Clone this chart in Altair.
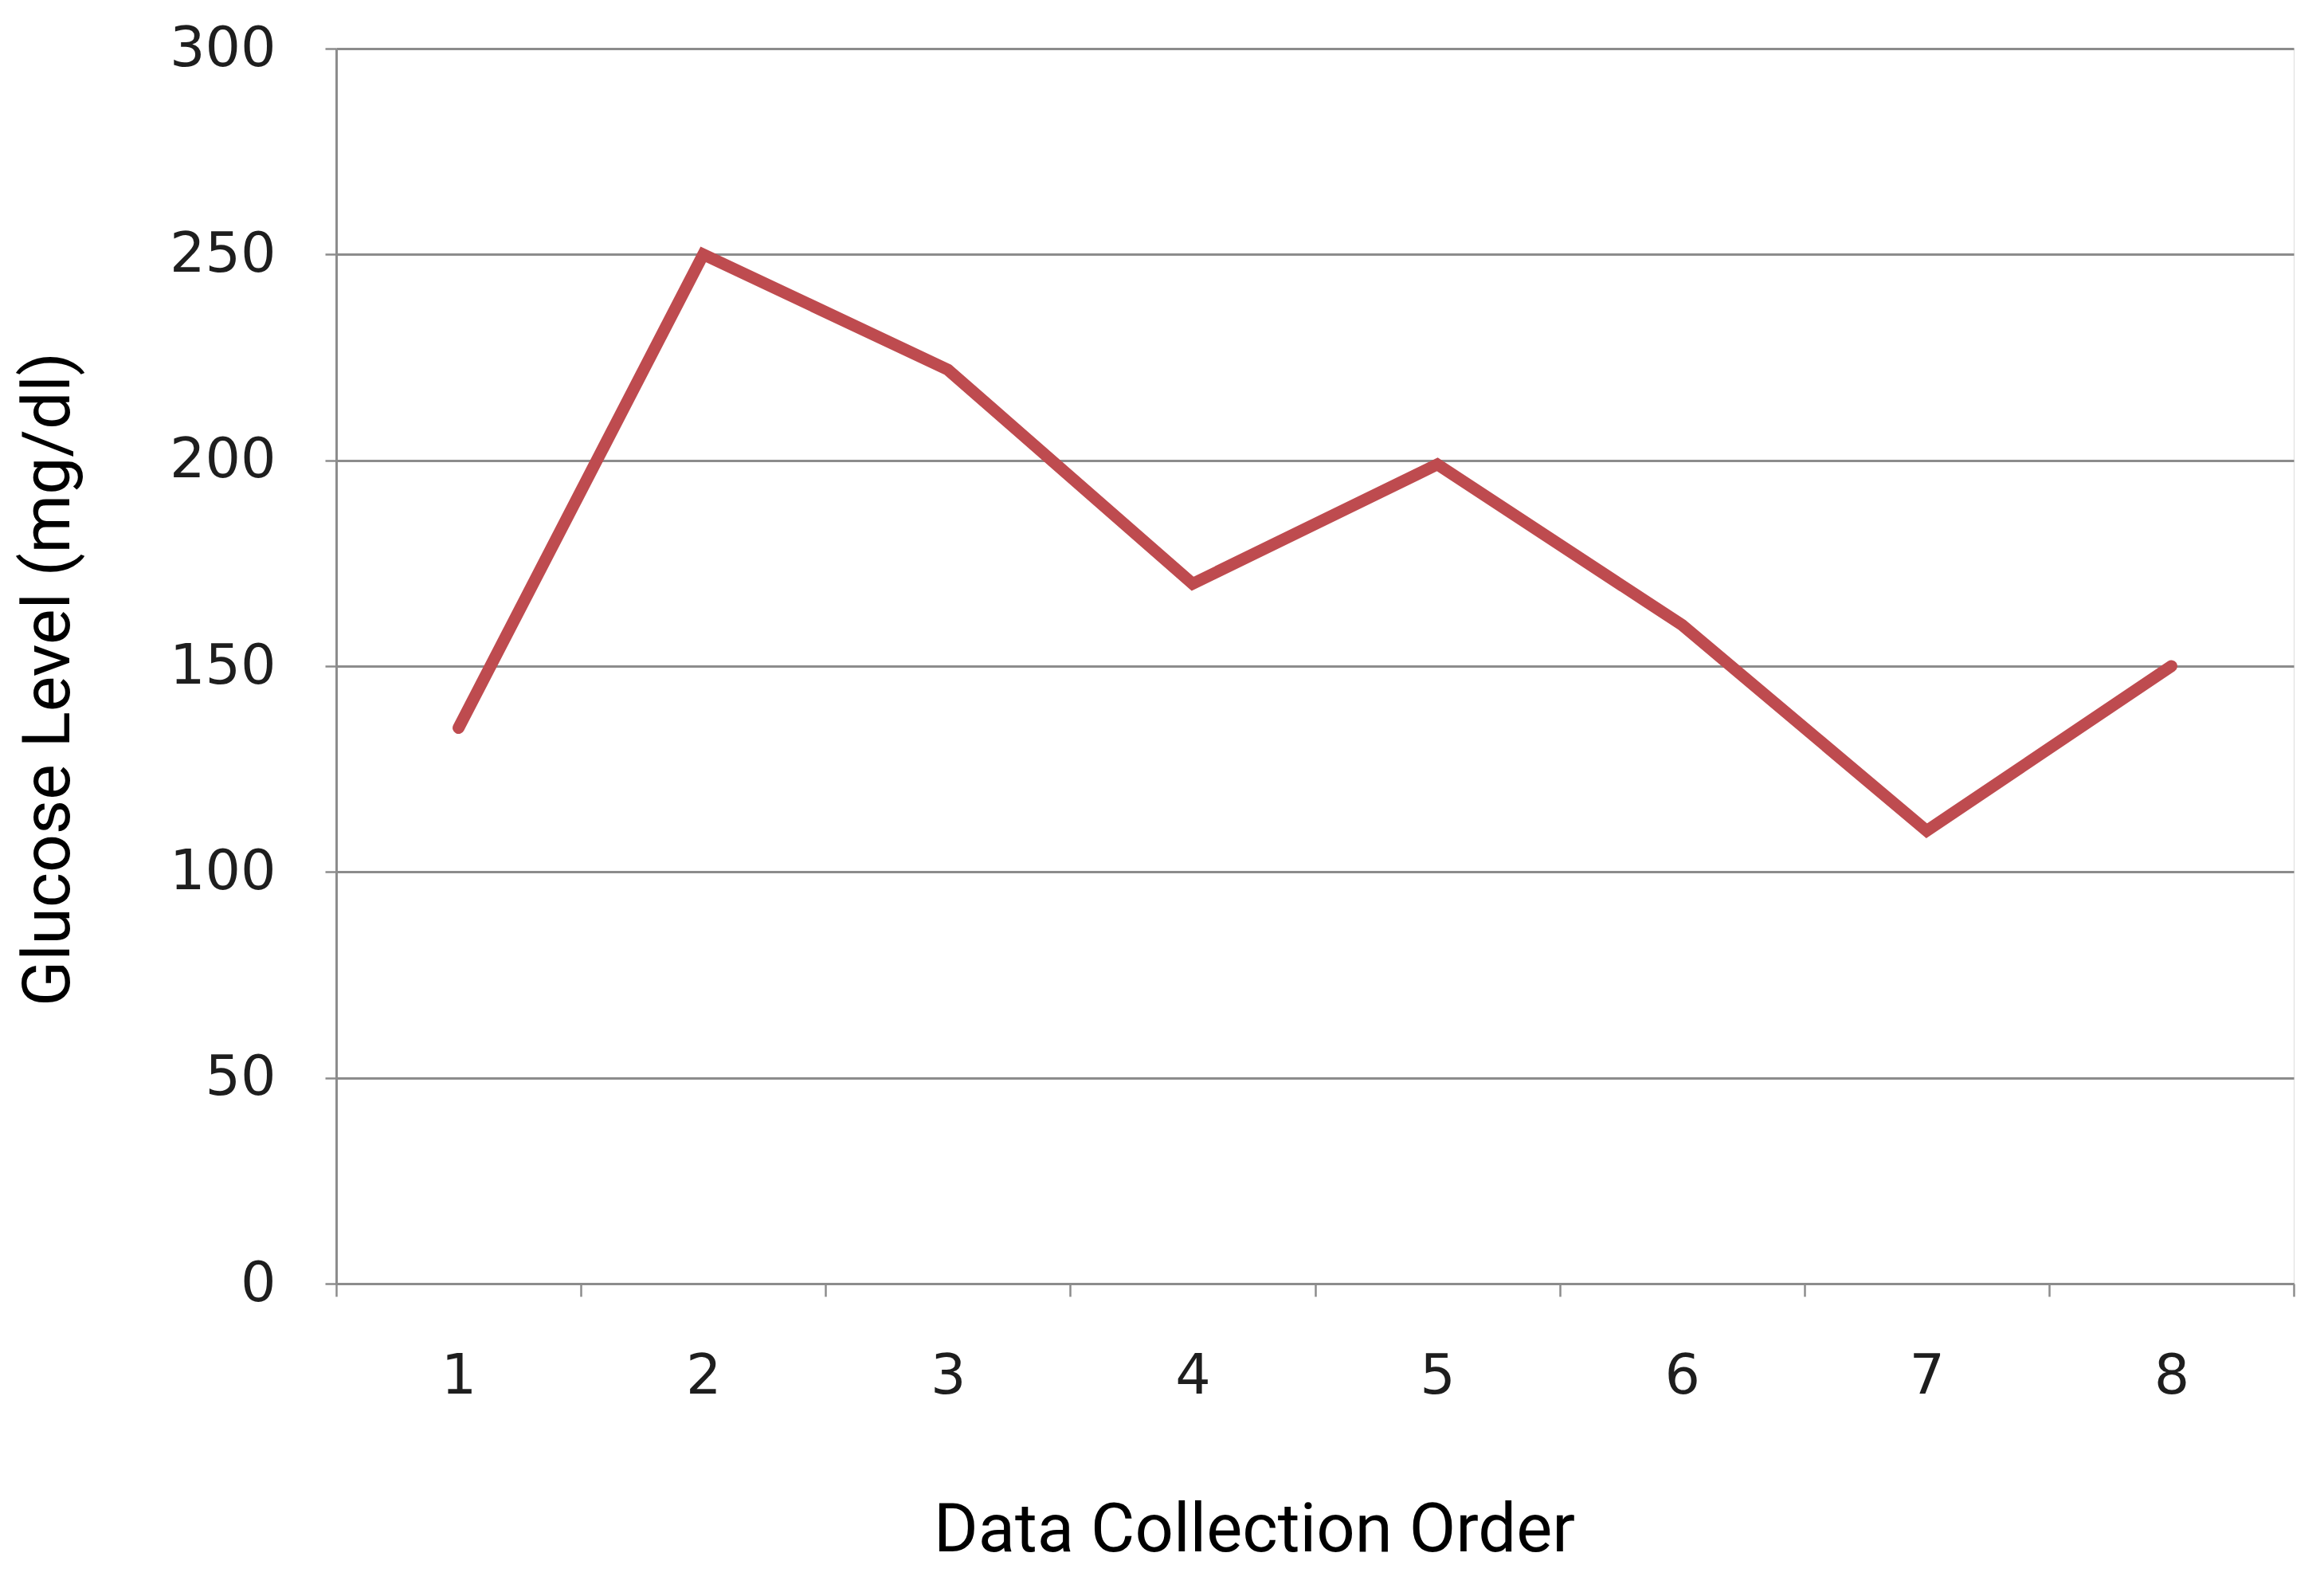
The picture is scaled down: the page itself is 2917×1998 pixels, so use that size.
import altair as alt
import pandas as pd

orders = ["1", "2", "3", "4", "5", "6", "7", "8"]
glucose = [135, 250, 222, 170, 199, 160, 110, 150]
y_ticks = [0, 50, 100, 150, 200, 250, 300]

df = pd.DataFrame({"order": orders, "glucose": glucose})

grid_color = "#8c8c8c"
label_color = "#1e1e1e"

chart = alt.Chart(df).mark_line(
    color="#BE4B4F", strokeWidth=15, strokeJoin="miter", strokeCap="round"
).encode(
    x=alt.X(
        "order:O",
        sort=orders,
        bandPosition=0.5,
        scale=alt.Scale(type="band", paddingInner=0, paddingOuter=0),
        axis=alt.Axis(
            title="Data Collection Order",
            titleFont="Roboto",
            titleFontSize=85,
            titleFontWeight="normal",
            titleColor="#000000",
            titleX=1152,
            titleY=309,
            titleAlign="center",
            titleBaseline="middle",
            labelAngle=0,
            labelFont="DejaVu Sans",
            labelFontSize=70,
            labelColor=label_color,
            labelBaseline="middle",
            labelPadding=100,
            tickBand="extent",
            tickSize=16,
            tickWidth=2.5,
            tickColor=grid_color,
            domainColor=grid_color,
            domainWidth=3,
            grid=False,
        ),
    ),
    y=alt.Y(
        "glucose:Q",
        scale=alt.Scale(domain=[0, 300], nice=False, zero=True),
        axis=alt.Axis(
            values=y_ticks,
            title="Glucose Level (mg/dl)",
            titleFont="Roboto",
            titleFontSize=84,
            titleFontWeight="normal",
            titleColor="#000000",
            titleAngle=270,
            titleX=-361,
            titleY=791,
            titleAlign="center",
            titleBaseline="middle",
            labelFont="DejaVu Sans",
            labelFontSize=70,
            labelColor=label_color,
            labelPadding=62,
            labelBaseline="middle",
            tickSize=14,
            tickWidth=2.5,
            tickColor=grid_color,
            domainColor=grid_color,
            domainWidth=3,
            grid=True,
            gridColor=grid_color,
            gridWidth=3,
        ),
    ),
).properties(
    width=2457,
    height=1550,
    autosize=alt.AutoSizeParams(type="none"),
    padding={"left": 414, "top": 53, "right": 30, "bottom": 380},
).configure_view(stroke=None).configure(background="white")

chart.save("out.html", embed_options={"renderer": "svg", "actions": False})
